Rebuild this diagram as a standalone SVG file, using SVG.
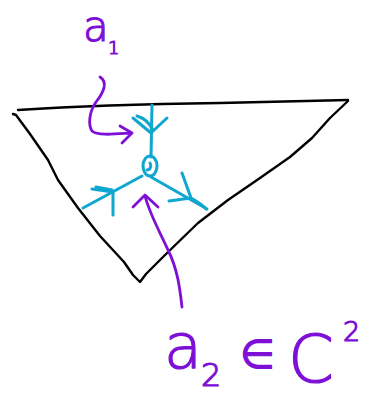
<svg xmlns="http://www.w3.org/2000/svg" width="371" height="396" viewBox="0 0 371 396">
<style>
.ink{fill:none;stroke-linecap:round;stroke-linejoin:round}
.blk{stroke:#000;stroke-width:2.4}
.cy{stroke:#0fa6cf;stroke-width:3}
.pu{stroke:#7d0fd6;stroke-width:2.8}
.lbl{fill:#7d0fd6;stroke:#7d0fd6;stroke-width:1.2;stroke-linejoin:round;font-family:"DejaVu Sans","Liberation Sans",sans-serif;font-weight:200}
</style>
<rect width="371" height="396" fill="#fff"/>
<g id="triangle" class="ink blk">
<path d="M18,110 C80,106 150,104 220,103 C270,102 320,101 348,100"/>
<path d="M13,114 L16,115 L30,134 L48,160 L58,180 L78,208 L100,236 L124,262 L133,275 L140,282 L146,274 L165,255 L198,223 L228,200 L260,178 L290,157 L312,138 L330,118 L348,101"/>
</g>
<g id="graph" class="ink cy">
<path d="M152,105 L151,157"/>
<path d="M133,118 L151,133 L167,118 M137,116 C144,118 150,124 153,130"/>
<ellipse cx="150" cy="166" rx="7" ry="10"/>
<path d="M150,163 C152,166 150,170 147,170"/>
<path d="M142,176 L83,208"/>
<path d="M92,189 L113,192 L113,215 M96,187 L112,190"/>
<path d="M151,177 L207,209"/>
<path d="M182,173 L191,198 L169,201 M191,198 C198,202 204,206 206,209"/>
</g>
<g id="connectors" class="ink pu">
<path d="M100,77 C108,82 104,92 96,102 C89,112 88,125 92,131 C98,136 115,134 131,133"/>
<path d="M120,126 L132,133 L122,143"/>
<path d="M182,307 C180,290 178,270 168,250 C160,232 150,215 145,196"/>
<path d="M133,207 L145,195 L158,207"/>
</g>
<g id="label-a1" class="lbl">
<text x="83" y="41" font-size="42">a</text>
<text x="108" y="54" font-size="18">1</text>
</g>
<g id="label-a2" class="lbl">
<text x="164" y="368" font-size="62">a</text>
<text x="201" y="386" font-size="32">2</text>
<text x="240" y="368" font-size="40">∈</text>
<text x="288" y="382" font-size="66">C</text>
<text x="343" y="341" font-size="27">2</text>
</g>
</svg>
